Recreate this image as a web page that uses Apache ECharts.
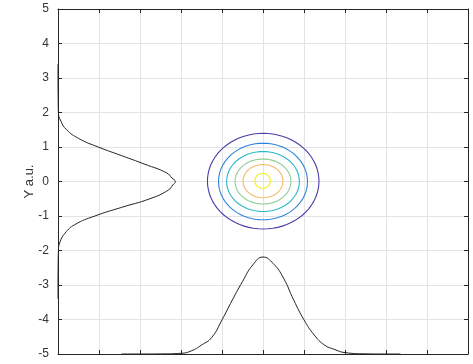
<!DOCTYPE html>
<html>
<head>
<meta charset="utf-8">
<script src="https://cdn.jsdelivr.net/npm/echarts@6/dist/echarts.min.js"></script>
<style>html,body{margin:0;padding:0;background:#fff}#c{width:473px;height:364px}</style>
</head>
<body>
<div id="c"></div>
<script>
// Axis ticks
var yTicks = [-5, -4, -3, -2, -1, 0, 1, 2, 3, 4, 5];

// Left marginal profile (distribution along Y), offset from x = -5
var leftY   = [-3.4, -3, -2.5, -2, -1.75, -1.5, -1.25, -1, -0.75, -0.5, -0.25, -0.1, 0, 0.1, 0.25, 0.5, 0.75, 1, 1.25, 1.5, 1.75, 2, 2.5, 3, 3.4];
var leftVal = [0, 0, 0.003, 0.01, 0.05, 0.17, 0.41, 0.9, 1.55, 2.24, 2.69, 2.8, 2.86, 2.78, 2.65, 2.12, 1.55, 0.98, 0.5, 0.21, 0.07, 0.01, 0.003, 0, 0];

// Bottom marginal profile (distribution along X), offset from y = -5
var bottomX   = [-3.45, -3, -2.5, -2, -1.75, -1.5, -1.25, -1, -0.75, -0.5, -0.25, 0, 0.25, 0.5, 0.75, 1, 1.25, 1.5, 1.75, 2, 2.5, 3, 3.35];
var bottomVal = [0, 0, 0.003, 0.02, 0.09, 0.26, 0.48, 0.99, 1.56, 2.1, 2.58, 2.81, 2.62, 2.2, 1.56, 0.99, 0.55, 0.26, 0.13, 0.04, 0.005, 0, 0];

// Contour ellipses (outer to inner)
var contourRx = [1.36, 1.085, 0.887, 0.683, 0.488, 0.19];
var contourRy = [1.387, 1.11, 0.87, 0.652, 0.483, 0.217];
var contourCx = [0.005, 0.0, 0.0, 0.0, 0.0, -0.01];
var contourCy = [0.01, 0.0, 0.0, 0.0, 0.01, 0.02];
var contourColors = ['#4a3ca6', '#2a82dc', '#2ab6cb', '#8fce95', '#f5b865', '#f2ee1a'];

var base = -5;
var series = [];
for (var k = 0; k < contourRx.length; k++) {
  var pts = [];
  for (var i = 0; i <= 72; i++) {
    var a = i / 72 * Math.PI * 2;
    pts.push([contourCx[k] + contourRx[k] * Math.cos(a), contourCy[k] + contourRy[k] * Math.sin(a)]);
  }
  series.push({type: 'line', data: pts, showSymbol: false, symbol: 'none',
    lineStyle: {color: contourColors[k], width: 1.1}, silent: true});
}
series.push({type: 'line', data: leftY.map(function (y, i) { return [base + leftVal[i], y]; }),
  showSymbol: false, symbol: 'none', smooth: 0.5, lineStyle: {color: '#222', width: 1}});
series.push({type: 'line', data: bottomX.map(function (x, i) { return [x, base + bottomVal[i]]; }),
  showSymbol: false, symbol: 'none', smooth: 0.5, lineStyle: {color: '#222', width: 1}});

var axisLine = {show: true, onZero: false, lineStyle: {color: '#262626', width: 1}};
var tick = {show: true, inside: true, length: 4, lineStyle: {color: '#262626'}};
var split = {show: true, lineStyle: {color: '#e3e3e3', width: 1}};

var chart = echarts.init(document.getElementById('c'), null, {renderer: 'canvas'});
chart.setOption({
  animation: false,
  grid: {left: 58, right: 5, top: 9, bottom: 10, containLabel: false},
  xAxis: [
    {type: 'value', min: -5, max: 5, interval: 1, position: 'bottom', axisLine: axisLine, axisTick: tick, axisLabel: {show: false}, splitLine: split},
    {type: 'value', min: -5, max: 5, interval: 1, position: 'top', axisLine: axisLine, axisTick: tick, axisLabel: {show: false}, splitLine: {show: false}}
  ],
  yAxis: [
    {type: 'value', min: yTicks[0], max: yTicks[yTicks.length - 1], interval: 1, position: 'left',
      axisLine: axisLine, axisTick: tick, splitLine: split,
      axisLabel: {color: '#333', fontSize: 12, fontFamily: 'Liberation Sans, Arial, sans-serif', margin: 9},
      name: 'Y a.u.', nameLocation: 'middle', nameGap: 22, nameRotate: 90, nameMoveOverlap: false,
      nameTextStyle: {color: '#333', fontSize: 13, fontFamily: 'Liberation Sans, Arial, sans-serif'}},
    {type: 'value', min: -5, max: 5, interval: 1, position: 'right', axisLine: axisLine, axisTick: tick, axisLabel: {show: false}, splitLine: {show: false}}
  ],
  series: series
});
</script>
</body>
</html>
